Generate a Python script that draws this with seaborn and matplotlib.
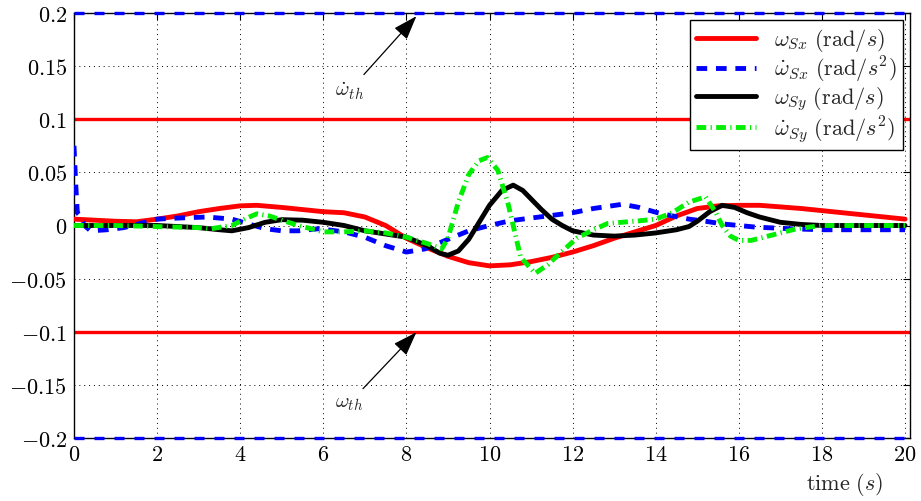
import numpy as np
import pandas as pd
import matplotlib
matplotlib.use("Agg")
import matplotlib.pyplot as plt
import seaborn as sns

# ---- data -------------------------------------------------------------
t_wsx = [0, 0.5, 1, 1.5, 2, 2.5, 3, 3.5, 4, 4.4, 5, 5.5, 6, 6.5, 7, 7.5, 8,
         8.5, 9, 9.5, 10, 10.5, 11, 11.5, 12, 12.5, 13, 13.5, 14, 14.5, 15,
         15.5, 16, 16.5, 17, 17.5, 18, 18.5, 19, 19.5, 20]
w_sx = [0.006, 0.005, 0.004, 0.0035, 0.006, 0.009, 0.013, 0.016, 0.0185,
        0.019, 0.017, 0.015, 0.013, 0.012, 0.008, 0.0, -0.012, -0.021, -0.029,
        -0.035, -0.038, -0.037, -0.034, -0.030, -0.025, -0.019, -0.012,
        -0.006, 0.0, 0.009, 0.016, 0.0185, 0.019, 0.019, 0.0175, 0.016, 0.014,
        0.012, 0.010, 0.008, 0.006]

t_dwsx = [0, 0.04, 0.08, 0.15, 0.25, 0.4, 0.8, 1.2, 1.6, 2, 2.5, 3.2, 3.8,
          4.2, 4.6, 5.0, 5.4, 5.9, 6.5, 7, 7.5, 8, 8.45, 9, 9.5, 10, 10.5, 11,
          11.5, 12, 12.5, 13.2, 13.6, 14, 14.4, 14.8, 15.2, 15.6, 16.4, 17.2,
          18, 19, 20]
dw_sx = [0.075, 0.04, 0.012, 0.009, 0.0, -0.005, -0.004, -0.002, 0.002,
         0.006, 0.007, 0.008, 0.006, 0.0015, -0.003, -0.005, -0.005, -0.003,
         -0.006, -0.011, -0.019, -0.025, -0.022, -0.013, -0.005, 0.0, 0.0045,
         0.007, 0.0095, 0.012, 0.016, 0.020, 0.017, 0.0125, 0.009, 0.006,
         0.004, 0.0015, -0.0015, -0.003, -0.004, -0.004, -0.004]

t_wsy = [0, 0.5, 1, 1.5, 2, 2.5, 3, 3.5, 3.8, 4.2, 4.6, 5, 5.5, 6, 6.5, 7,
         7.5, 8, 8.5, 8.8, 9, 9.25, 9.5, 9.75, 10, 10.3, 10.57, 10.8, 11,
         11.25, 11.5, 11.75, 12, 12.5, 13, 13.5, 14, 14.5, 14.8, 15, 15.3,
         15.6, 15.9, 16.2, 16.5, 17, 17.5, 18, 19, 20]
w_sy = [0.0, 0.0, 0.0, 0.0, 0.0, -0.001, -0.002, -0.004, -0.005, -0.002,
        0.003, 0.0055, 0.005, 0.003, 0.0, -0.005, -0.008, -0.011, -0.019,
        -0.026, -0.028, -0.024, -0.013, 0.003, 0.019, 0.033, 0.038, 0.033,
        0.025, 0.015, 0.006, 0.0, -0.005, -0.009, -0.010, -0.009, -0.007,
        -0.004, -0.001, 0.004, 0.013, 0.019, 0.017, 0.012, 0.008, 0.003,
        0.001, 0.0, 0.0, 0.0]

t_dwsy = [0, 1, 2, 3, 3.3, 3.8, 4.1, 4.4, 4.7, 5, 5.4, 6, 6.5, 7, 7.5, 8,
          8.5, 8.85, 9.0, 9.25, 9.5, 9.75, 9.95, 10.2, 10.45, 10.75, 11.1,
          11.4, 11.7, 12.1, 12.5, 12.85, 13.5, 14, 14.4, 14.8, 15.2, 15.45,
          15.6, 15.8, 16.0, 16.3, 16.6, 17, 17.4, 18, 19, 20]
dw_sy = [0.0, 0.0, -0.001, -0.002, -0.003, 0.0, 0.006, 0.011, 0.009, 0.005,
         0.0, -0.006, -0.006, -0.005, -0.007, -0.011, -0.017, -0.022, -0.012,
         0.022, 0.048, 0.061, 0.064, 0.052, 0.020, -0.030, -0.045, -0.037,
         -0.026, -0.012, -0.004, 0.002, 0.004, 0.006, 0.012, 0.022, 0.027,
         0.012, 0.0, -0.010, -0.014, -0.014, -0.011, -0.007, -0.003, 0.0,
         0.0, 0.0]

w_th = 0.1        # rate threshold
dw_th = 0.2       # acceleration threshold

x_ticks = [0, 2, 4, 6, 8, 10, 12, 14, 16, 18, 20]
y_ticks = [-0.2, -0.15, -0.1, -0.05, 0, 0.05, 0.1, 0.15, 0.2]
y_tick_labels = [r"$-0.2$", r"$-0.15$", r"$-0.1$", r"$-0.05$", r"$0$",
                 r"$0.05$", r"$0.1$", r"$0.15$", r"$0.2$"]
x_tick_labels = [rf"${v}$" for v in x_ticks]

labels = [r"$\omega_{Sx}\ (\mathrm{rad}/s)$",
          r"$\dot{\omega}_{Sx}\ (\mathrm{rad}/s^2)$",
          r"$\omega_{Sy}\ (\mathrm{rad}/s)$",
          r"$\dot{\omega}_{Sy}\ (\mathrm{rad}/s^2)$"]

# ---- style ------------------------------------------------------------
sns.set_theme(style="white")
plt.rcParams["font.family"] = ["serif"]
plt.rcParams["font.serif"] = ["cmr10", "DejaVu Serif"]
plt.rcParams["mathtext.fontset"] = "cm"
plt.rcParams["axes.formatter.use_mathtext"] = True

fig = plt.figure(figsize=(9.21, 5.02), dpi=100)
ax = fig.add_axes([74 / 921, 1 - 439 / 502, (910 - 74) / 921, (439 - 14) / 502])

RED, BLUE, GREEN = "#ff0000", "#0000ff", "#00ee00"
LW = 3.5

# threshold lines
for s in (1, -1):
    ax.axhline(s * w_th, color=RED, lw=2.4, zorder=2)
    ax.axhline(s * dw_th, color=BLUE, lw=2.4, ls=(0, (3.0, 3.0)), zorder=10,
               clip_on=False)

sns.lineplot(x=t_wsx, y=w_sx, ax=ax, color=RED, lw=LW, label=labels[0],
             zorder=3)
sns.lineplot(x=t_dwsx, y=dw_sx, ax=ax, color=BLUE, lw=LW, label=labels[1],
             linestyle=(0, (2.2, 1.8)), zorder=4)
sns.lineplot(x=t_wsy, y=w_sy, ax=ax, color="black", lw=LW, label=labels[2],
             zorder=5)
sns.lineplot(x=t_dwsy, y=dw_sy, ax=ax, color=GREEN, lw=LW, label=labels[3],
             linestyle=(0, (2.0, 0.9, 0.25, 0.9)), zorder=6)

ax.set_xlim(0, 20.12)
ax.set_ylim(-0.2, 0.2)
ax.set_xticks(x_ticks)
ax.set_xticklabels(x_tick_labels)
ax.set_yticks(y_ticks)
ax.set_yticklabels(y_tick_labels)
ax.tick_params(direction="in", length=5, width=0.8, top=True, right=True,
               labelsize=16, colors="black", pad=5)
ax.grid(True, color="black", ls=(0, (1, 4)), lw=0.7)
for sp in ax.spines.values():
    sp.set_color("black")
    sp.set_linewidth(1.0)

ax.set_xlabel(r"$\mathrm{time}\ (s)$", fontsize=16, loc="right")
ax.xaxis.set_label_coords(0.968, -0.075)
ax.set_ylabel("")

leg = ax.legend(loc="upper right", fontsize=16, frameon=True, fancybox=False,
                edgecolor="black", framealpha=1.0, handlelength=2.7,
                borderaxespad=0.3, labelspacing=0.02, borderpad=0.3,
                handletextpad=0.8)
leg.get_frame().set_linewidth(1.0)
leg.set_zorder(20)

arrow = dict(arrowstyle="-|>,head_length=1.0,head_width=0.35", color="black",
             lw=0.9, shrinkA=2, shrinkB=0)
ax.annotate(r"$\dot{\omega}_{th}$", xy=(8.24, 0.197), xytext=(6.63, 0.127),
            fontsize=15, ha="center", va="center", arrowprops=arrow)
ax.annotate(r"$\omega_{th}$", xy=(8.24, -0.1005), xytext=(6.63, -0.167),
            fontsize=15, ha="center", va="center", arrowprops=arrow)

fig.savefig("out.png", dpi=100)
